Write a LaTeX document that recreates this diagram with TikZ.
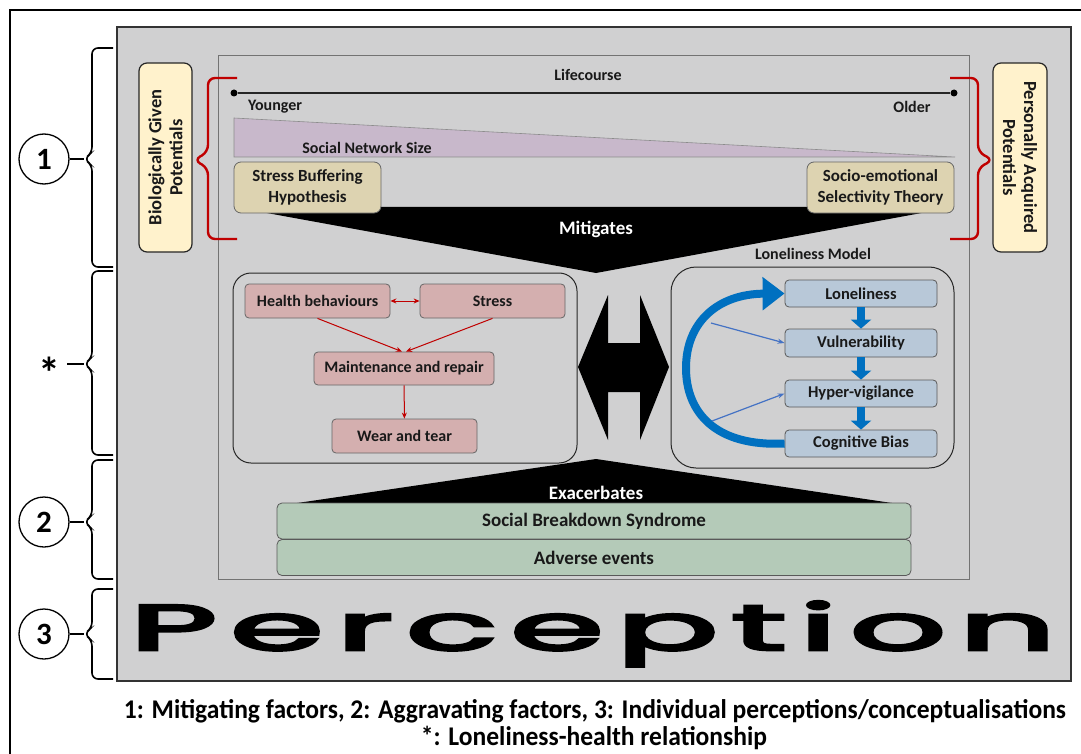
\documentclass[tikz,border=0pt]{standalone}
\usepackage{fontspec}
\setmainfont{Carlito}
\newfontfamily\percfont{Poppins}[LetterSpace=9, FakeBold=4]
\usetikzlibrary{arrows.meta}

\definecolor{panel}{HTML}{D0D0D1}
\definecolor{potyellow}{HTML}{FFF2CC}
\definecolor{theorytan}{HTML}{DDD3B1}
\definecolor{netpurple}{HTML}{C8B8CB}
\definecolor{healthpink}{HTML}{D4AFAF}
\definecolor{lonblue}{HTML}{B8C8D8}
\definecolor{aggrgreen}{HTML}{B4CAB8}
\definecolor{loopblue}{HTML}{0070C0}
\definecolor{thinblue}{HTML}{4472C4}
\definecolor{bracered}{HTML}{C00000}

\tikzset{
  lab/.style={font=\fontsize{16}{19}\selectfont\bfseries, text=black!90, align=center, inner sep=0pt},
  whitelab/.style={lab, text=white, font=\fontsize{19}{22}\selectfont\bfseries},
  potlab/.style={lab, font=\fontsize{18.5}{21}\selectfont\bfseries},
  potbox/.style={draw=black!85, fill=potyellow, line width=1.2pt, rounded corners=8pt, inner sep=0pt},
  theorybox/.style={lab, draw=black!60, fill=theorytan, line width=0.8pt, rounded corners=7pt, font=\fontsize{17}{20.5}\selectfont\bfseries},
  pinkbox/.style={lab, draw=black!60, fill=healthpink, line width=0.8pt, rounded corners=4pt},
  bluebox/.style={lab, draw=black!65, fill=lonblue, line width=0.8pt, rounded corners=4pt, font=\fontsize{16.5}{19}\selectfont\bfseries},
  greenbar/.style={lab, draw=black!65, fill=aggrgreen, line width=0.8pt, rounded corners=5pt, font=\fontsize{19}{22}\selectfont\bfseries},
  container/.style={draw=black!85, line width=1pt},
  redarrow/.style={draw=bracered, line width=1pt, -{Stealth[length=6pt,width=5pt]}},
  chainarrow/.style={draw=loopblue, line width=8pt, -{Triangle[length=9pt,width=20pt]}},
  thinarrow/.style={draw=thinblue, line width=1.2pt, -{Stealth[length=7pt,width=5pt]}},
  redbrace/.style={draw=bracered, line width=2.4pt, rounded corners=7pt},
  blackbrace/.style={draw=black, line width=1.6pt, rounded corners=6pt},
  numcircle/.style={circle, draw=black, line width=1.3pt, fill=white, minimum size=50pt, inner sep=0pt, font=\fontsize{31}{31}\selectfont\bfseries},
  dot/.style={circle, fill=black, inner sep=0pt, minimum size=7pt}
}

% left-hand bracket: top y, tip y, bottom y
\newcommand\sidebracket[3]{%
  \draw[blackbrace] (113,#1) -- (92,#1) -- (92,#2-6) -- (84,#2) -- (92,#2+6) -- (92,#3) -- (113,#3);}

\begin{document}
\begin{tikzpicture}[x=1pt, y=-1pt]
\useasboundingbox (0,0) rectangle (1081,754);
\fill[white] (0,0) rectangle (1081,754);

% outer frame and grey panel
\draw[line width=1.5pt] (10,754) -- (10,10) -- (1081,10);
\draw[fill=panel, draw=black!80, line width=1.5pt] (117,27) rectangle (1071,681);
\draw[black!55, line width=0.7pt] (218,55) rectangle (969,579);

% lifecourse axis
\node[lab] (lifecourse) at (588,75) {Lifecourse};
\node[dot] (young) at (234,93) {};
\node[dot] (old) at (954,93) {};
\draw[line width=1.3pt, black!85] (young) -- (old);
\node[lab] (younger) at (275,107) {Younger};
\node[lab] (older) at (912,107) {Older};

% social network size wedge
\draw[fill=netpurple, draw=black!45, line width=0.6pt] (234,118) -- (955,157) -- (234,157) -- cycle;
\node[lab] (netsize) at (367,148) {Social Network Size};

% mitigating funnel
\fill[black] (234,207) -- (954,207) -- (596,273) -- cycle;
\node[whitelab] (mitigates) at (596,229) {Mitigates};

% theories
\node[theorybox, minimum width=147pt, minimum height=51pt] (sbh) at (307.5,187.5) {Stress Buffering\\Hypothesis};
\node[theorybox, minimum width=147pt, minimum height=51pt] (sest) at (880.5,187.5) {Socio-emotional\\Selectivity Theory};

% potentials and red braces
\node[potbox, minimum width=53pt, minimum height=189pt] (bio) at (165.5,157.5) {};
\node[potlab, rotate=90] (biotext) at (bio) {Biologically Given\\Potentials};
\node[potbox, minimum width=54pt, minimum height=189pt] (pers) at (1020,157.5) {};
\node[potlab, rotate=-90] (perstext) at (pers) {Personally Acquired\\Potentials};
\draw[redbrace] (237,78) -- (208,78) -- (208,152) -- (194,160) -- (208,168) -- (208,239) -- (237,239);
\draw[redbrace] (950,78) -- (978,78) -- (978,152) -- (993,160) -- (978,168) -- (978,239) -- (950,239);

% health pathway
\draw[container, rounded corners=18pt] (233,273) rectangle (577,463);
\node[pinkbox, minimum width=145pt, minimum height=34pt] (hb) at (317.5,301) {Health behaviours};
\node[pinkbox, minimum width=145pt, minimum height=34pt] (stress) at (492.5,301) {Stress};
\node[pinkbox, minimum width=180pt, minimum height=33pt] (maint) at (404,368.5) {Maintenance and repair};
\node[pinkbox, minimum width=145pt, minimum height=34pt] (wear) at (404.5,436) {Wear and tear};
\draw[redarrow, {Stealth[length=6pt,width=5pt]}-{Stealth[length=6pt,width=5pt]}] (hb) -- (stress);
\draw[redarrow] (hb.south) -- ([xshift=-2pt]maint.north);
\draw[redarrow] (stress.south) -- ([xshift=2pt]maint.north);
\draw[redarrow] (maint) -- (wear);

% two-way link
\fill[black] (578,367) -- (608,295) -- (608,343) -- (640,343) -- (640,295) -- (669,367)
  -- (640,440) -- (640,392) -- (608,392) -- (608,440) -- cycle;

% loneliness model
\node[lab] (lonmodel) at (813,254) {Loneliness Model};
\draw[container, rounded corners=25pt] (671,267) rectangle (954,468);
\node[bluebox, minimum width=152pt, minimum height=27pt] (lon) at (861,293.5) {Loneliness};
\node[bluebox, minimum width=152pt, minimum height=28pt] (vul) at (861,343) {Vulnerability};
\node[bluebox, minimum width=152pt, minimum height=27pt] (hyp) at (861,393.5) {Hyper-vigilance};
\node[bluebox, minimum width=152pt, minimum height=27pt] (cog) at (861,443.5) {Cognitive Bias};
\draw[chainarrow] (lon) -- (vul);
\draw[chainarrow] (vul) -- (hyp);
\draw[chainarrow] (hyp) -- (cog);
\coordinate (loopA) at (711,323);
\coordinate (loopB) at (712,421);
\draw[draw=loopblue, line width=8pt, -{Triangle[length=22pt,width=32pt]}]
  (cog.west) .. controls (715,447) and (686,412) .. (686,368)
  .. controls (686,322) and (718,294) .. (lon.west);
\draw[thinarrow] (loopA) -- (vul.west);
\draw[thinarrow] (loopB) -- (hyp.west);

% aggravating factors
\fill[black] (277,506) -- (596,459) -- (912,506) -- cycle;
\node[whitelab] (exac) at (596,493) {Exacerbates};
\node[greenbar, minimum width=634pt, minimum height=36pt] (sbs) at (594,521) {Social Breakdown Syndrome};
\node[greenbar, minimum width=634pt, minimum height=36pt] (adv) at (594,557.5) {Adverse events};

% perception
\node[anchor=base west, inner sep=0pt] (perception) at (130,650)
  {\resizebox{925pt}{1.07\height}{\fontsize{60}{60}\selectfont\percfont Perception}};

% side brackets
\sidebracket{48}{159}{267}
\sidebracket{271}{364}{455}
\sidebracket{460}{522}{579}
\sidebracket{589}{634}{679}
\coordinate (tip1) at (84,159);
\coordinate (tipS) at (84,364);
\coordinate (tip2) at (84,522);
\coordinate (tip3) at (84,634);
\node[numcircle] (c1) at (44,159) {1};
\node[inner sep=0pt, font=\fontsize{44}{44}\selectfont\bfseries] (star) at (49,373) {*};
\node[numcircle] (c2) at (44,522) {2};
\node[numcircle] (c3) at (44,634) {3};
\draw[line width=1.6pt] (c1) -- (tip1);
\draw[line width=1.6pt] (67,364) -- (tipS);
\draw[line width=1.6pt] (c2) -- (tip2);
\draw[line width=1.6pt] (c3) -- (tip3);

% key
\node[anchor=base, inner sep=0pt] (key1) at (595,718)
  {\resizebox{942pt}{\height}{\fontsize{27}{27}\selectfont\bfseries 1: Mitigating factors, 2: Aggravating factors, 3: Individual perceptions/conceptualisations}};
\node[anchor=base, inner sep=0pt] (key2) at (594,745)
  {\resizebox{346pt}{\height}{\fontsize{27}{27}\selectfont\bfseries *: Loneliness-health relationship}};
\end{tikzpicture}
\end{document}
